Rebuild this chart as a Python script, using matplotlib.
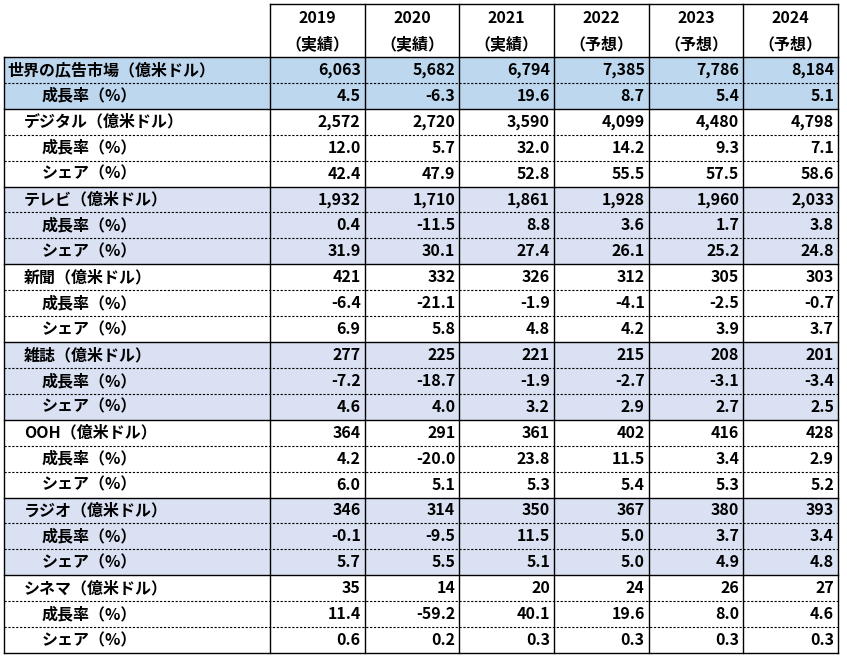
import matplotlib.pyplot as plt

plt.rcParams['font.family'] = ['Noto Sans CJK JP', 'DejaVu Sans']

years = ["2019", "2020", "2021", "2022", "2023", "2024"]
kinds = ["（実績）", "（実績）", "（実績）", "（予想）", "（予想）", "（予想）"]

world = ["6,063", "5,682", "6,794", "7,385", "7,786", "8,184"]
world_growth = ["4.5", "-6.3", "19.6", "8.7", "5.4", "5.1"]

media = ["デジタル", "テレビ", "新聞", "雑誌", "OOH", "ラジオ", "シネマ"]
amount = [
    ["2,572", "2,720", "3,590", "4,099", "4,480", "4,798"],
    ["1,932", "1,710", "1,861", "1,928", "1,960", "2,033"],
    ["421", "332", "326", "312", "305", "303"],
    ["277", "225", "221", "215", "208", "201"],
    ["364", "291", "361", "402", "416", "428"],
    ["346", "314", "350", "367", "380", "393"],
    ["35", "14", "20", "24", "26", "27"],
]
growth = [
    ["12.0", "5.7", "32.0", "14.2", "9.3", "7.1"],
    ["0.4", "-11.5", "8.8", "3.6", "1.7", "3.8"],
    ["-6.4", "-21.1", "-1.9", "-4.1", "-2.5", "-0.7"],
    ["-7.2", "-18.7", "-1.9", "-2.7", "-3.1", "-3.4"],
    ["4.2", "-20.0", "23.8", "11.5", "3.4", "2.9"],
    ["-0.1", "-9.5", "11.5", "5.0", "3.7", "3.4"],
    ["11.4", "-59.2", "40.1", "19.6", "8.0", "4.6"],
]
share = [
    ["42.4", "47.9", "52.8", "55.5", "57.5", "58.6"],
    ["31.9", "30.1", "27.4", "26.1", "25.2", "24.8"],
    ["6.9", "5.8", "4.8", "4.2", "3.9", "3.7"],
    ["4.6", "4.0", "3.2", "2.9", "2.7", "2.5"],
    ["6.0", "5.1", "5.3", "5.4", "5.3", "5.2"],
    ["5.7", "5.5", "5.1", "5.0", "4.9", "4.8"],
    ["0.6", "0.2", "0.3", "0.3", "0.3", "0.3"],
]

# build rows: (label, indent, values, fill, solid line above)
rows = [("世界の広告市場（億米ドル）", 0, world, "#BDD7EE", True),
        ("成長率（%）", 2, world_growth, "#BDD7EE", False)]
for i, m in enumerate(media):
    fill = "#D9E1F2" if i in (1, 3, 5) else "white"
    rows.append((f"{m}（億米ドル）", 1, amount[i], fill, True))
    rows.append(("成長率（%）", 2, growth[i], fill, False))
    rows.append(("シェア（%）", 2, share[i], fill, False))

W, H = 847, 658
fig = plt.figure(figsize=(W / 100, H / 100), dpi=100)
ax = fig.add_axes([0, 0, 1, 1])
ax.set_xlim(0, W)
ax.set_ylim(H, 0)
ax.axis("off")

x0, xl = 4, 270
colw = (838 - xl) / 6
xs = [xl + k * colw for k in range(7)]
top, hy = 4, 57
rh = (653 - hy) / len(rows)
fs = 11.5

# header
for k in range(6):
    cx = (xs[k] + xs[k + 1]) / 2
    ax.text(cx, top + 14, years[k], ha="center", va="center", fontsize=fs, weight="bold")
    ax.text(cx, top + 40, kinds[k], ha="center", va="center", fontsize=fs, weight="bold")
ax.plot([xl, xs[-1]], [top, top], color="black", lw=1)
for x in xs:
    ax.plot([x, x], [top, hy], color="black", lw=1)

indent = [3, 20, 38]
for r, (label, ind, vals, fill, solid) in enumerate(rows):
    y = hy + r * rh
    ax.add_patch(plt.Rectangle((x0, y), xs[-1] - x0, rh, facecolor=fill, edgecolor="none"))
    ax.text(x0 + indent[ind], y + rh / 2, label, ha="left", va="center", fontsize=fs, weight="bold")
    for k, v in enumerate(vals):
        ax.text(xs[k + 1] - 4, y + rh / 2, v, ha="right", va="center", fontsize=fs, weight="bold")
    if solid:
        ax.plot([x0, xs[-1]], [y, y], color="black", lw=1)
    else:
        ax.plot([x0, xs[-1]], [y, y], color="black", lw=0.8, ls=(0, (2, 1.5)))
yb = hy + len(rows) * rh
ax.plot([x0, xs[-1]], [yb, yb], color="black", lw=1)
for x in [x0] + xs:
    ax.plot([x, x], [hy, yb], color="black", lw=1)

fig.savefig("out.png", dpi=100)
